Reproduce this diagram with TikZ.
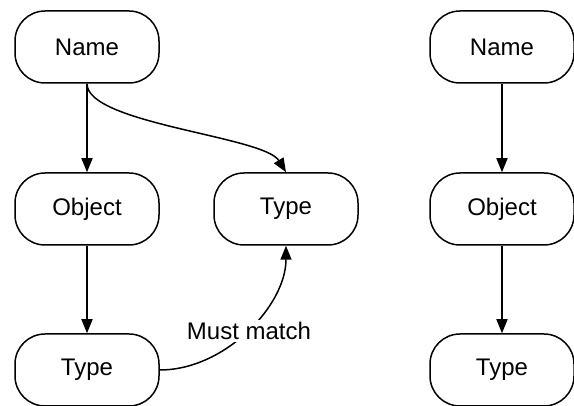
\documentclass[tikz,border=0pt]{standalone}
\usepackage{fontspec}
\setmainfont{Liberation Sans}
\usetikzlibrary{arrows.meta}
\begin{document}
\begin{tikzpicture}[x=1pt,y=-1pt,
  pill/.style={draw=black, line width=1.5pt, rounded corners=30pt,
    minimum width=144pt, minimum height=72pt, inner sep=0pt,
    font=\fontsize{24}{28}\selectfont},
  link/.style={line width=1.5pt, -{Triangle[length=14pt,width=11pt]}},
  note/.style={fill=white, inner sep=2pt, font=\fontsize{24}{28}\selectfont}]
  \useasboundingbox (0,0) rectangle (574,406);
  % left column
  \node[pill] (name1) at (87,47) {Name};
  \node[pill] (obj1) at (87,209) {Object};
  \node[pill] (type1) at (87,370) {Type};
  % middle
  \node[pill] (type2) at (286,209) {Type};
  % right column
  \node[pill] (name2) at (502,47) {Name};
  \node[pill] (obj2) at (502,209) {Object};
  \node[pill] (type3) at (502,370) {Type};
  % connectors
  \draw[link] (name1.south) -- (obj1.north);
  \draw[link] (obj1.south) -- (type1.north);
  \draw[link] (name1.south) .. controls ++(0,40) and ++(-22,-36) .. (type2.north);
  \draw[link] (type1.east) .. controls ++(65,0) and ++(0,60) .. (type2.south);
  \node[note] (must) at (249,331) {Must match};
  \draw[link] (name2.south) -- (obj2.north);
  \draw[link] (obj2.south) -- (type3.north);
\end{tikzpicture}
\end{document}
